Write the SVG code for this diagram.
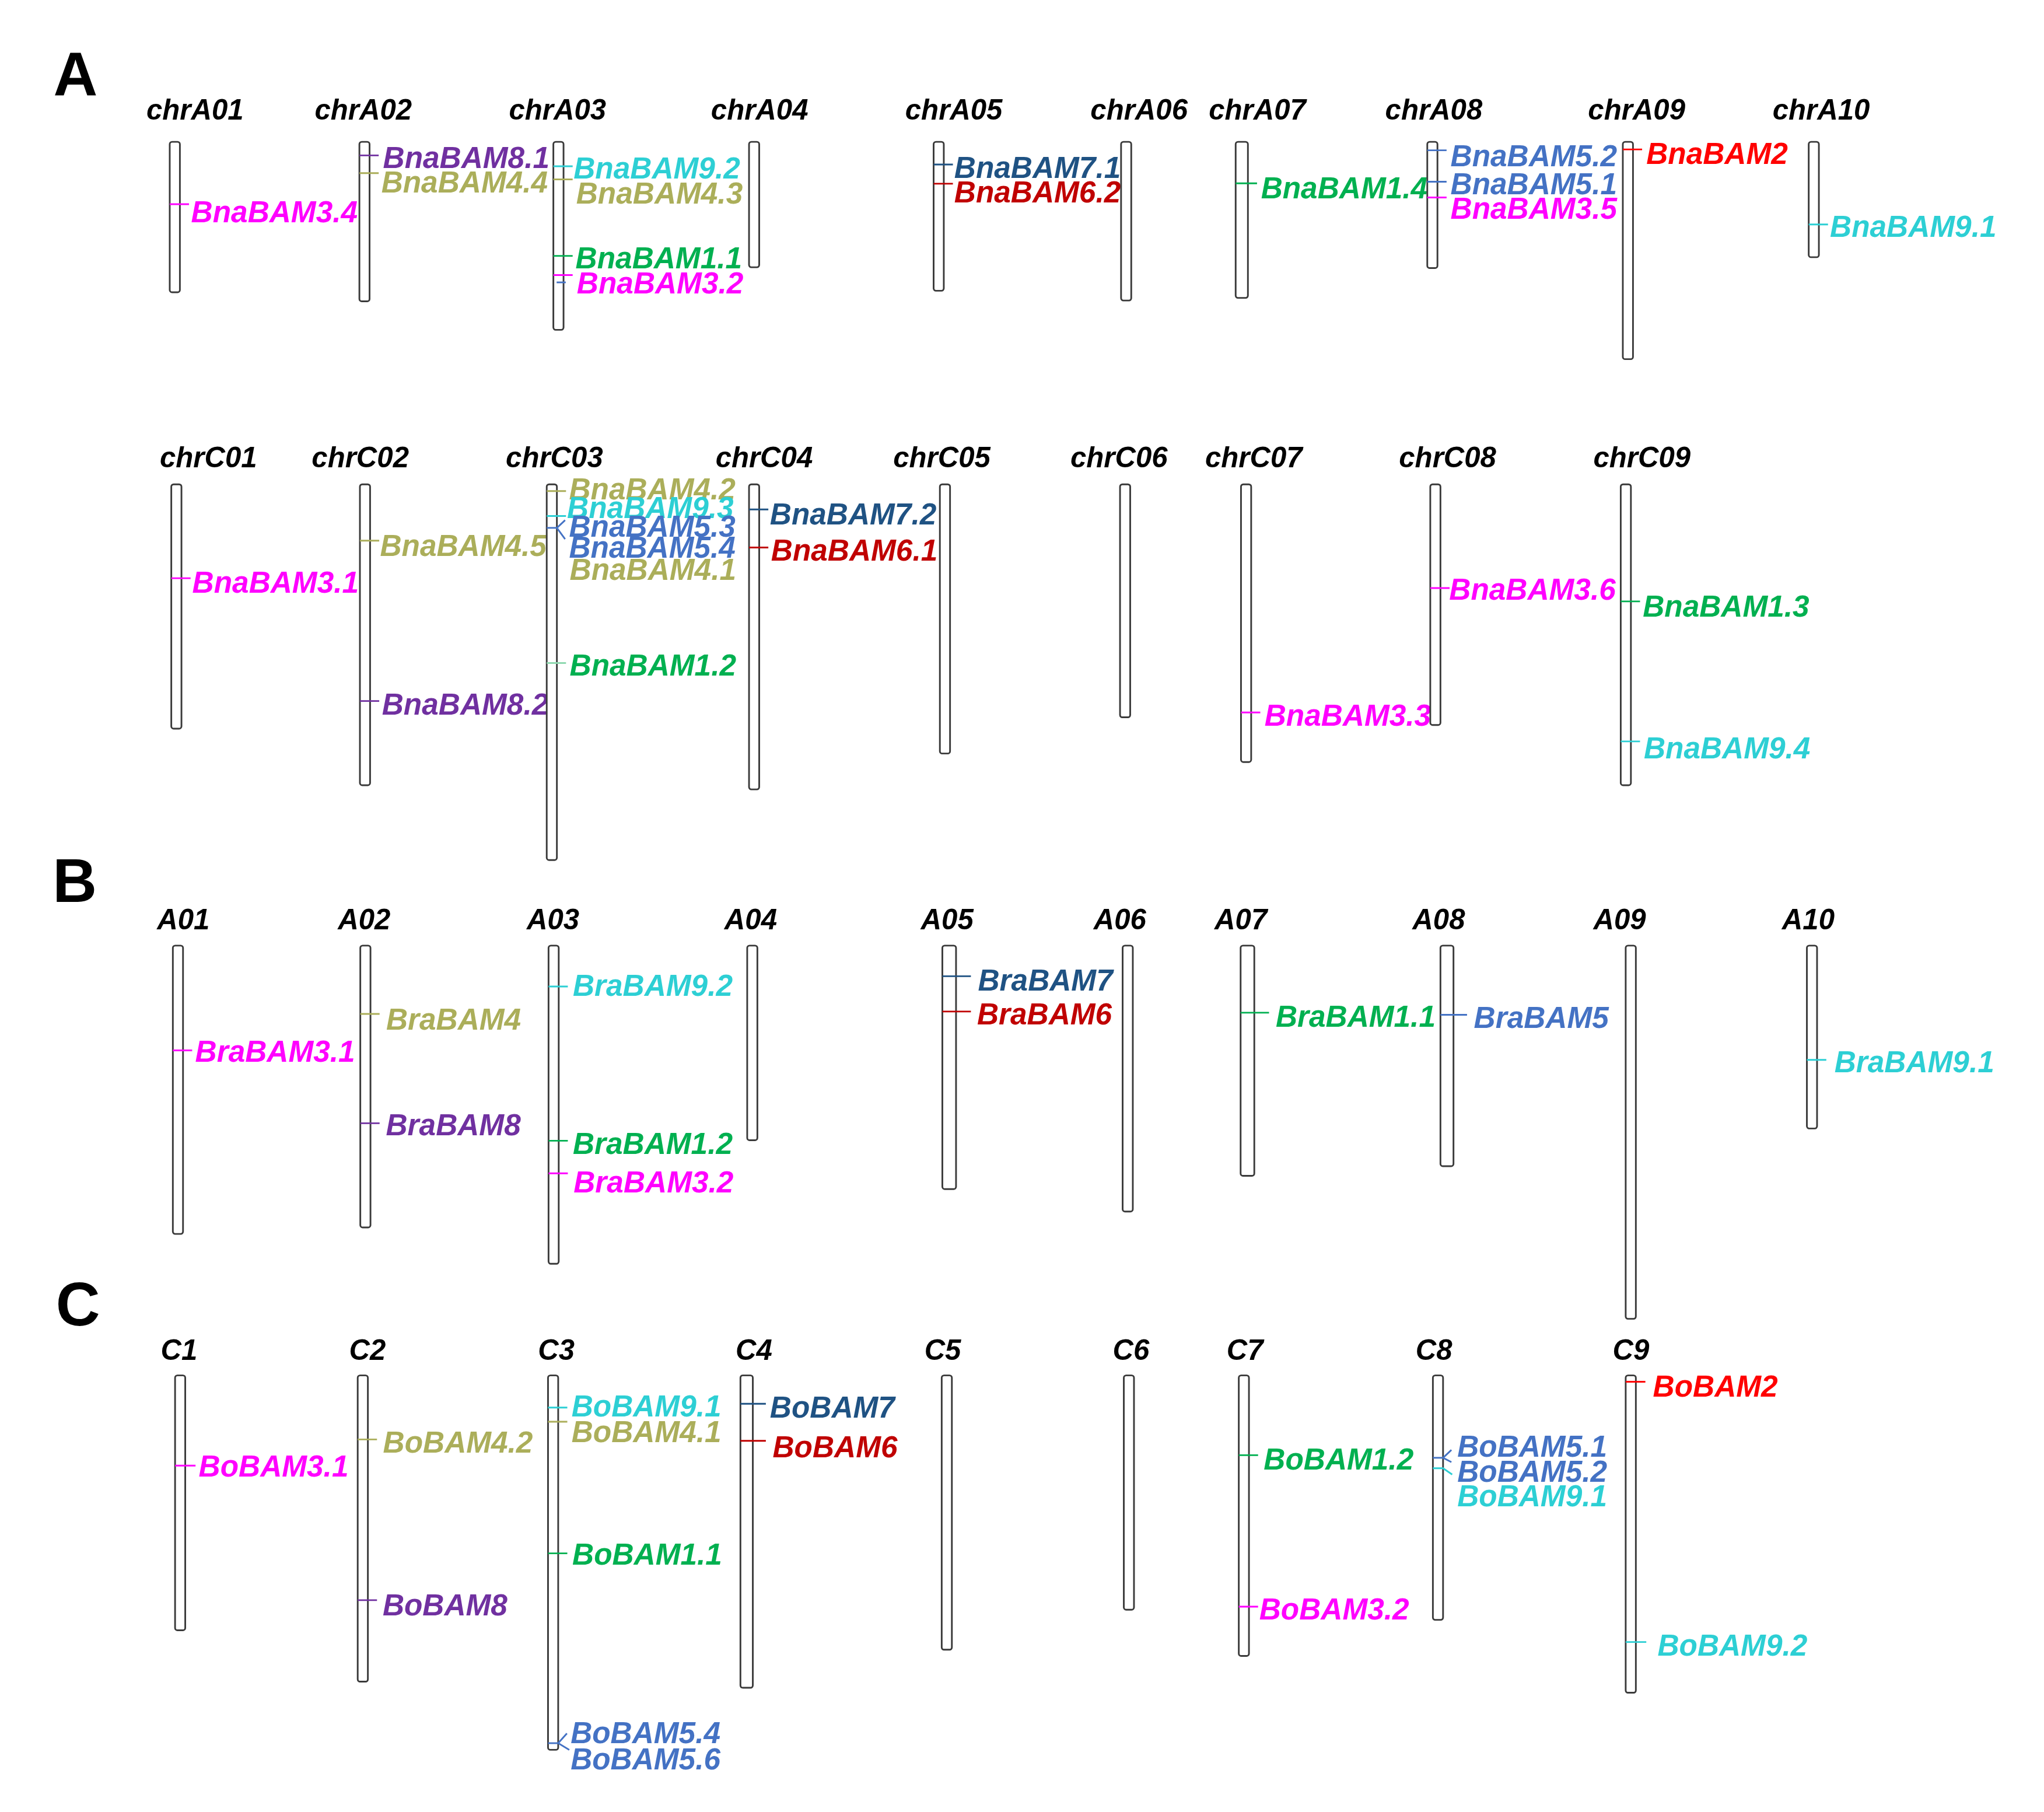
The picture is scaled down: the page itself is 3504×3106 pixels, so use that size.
<svg xmlns="http://www.w3.org/2000/svg" width="3504" height="3106" viewBox="0 0 3504 3106">
<style>
.chr{fill:#fff;stroke:#3a3a3a;stroke-width:1.3}
.cl{font-family:"Liberation Sans",Arial,sans-serif;font-weight:bold;font-style:italic;font-size:22px;fill:#000}
.g{font-family:"Liberation Sans",Arial,sans-serif;font-weight:bold;font-style:italic;font-size:23px}
.pl{font-family:"Liberation Sans",Arial,sans-serif;font-weight:bold;font-size:47px;fill:#000}
#connectors line,#connectors polyline{fill:none;stroke-width:1.3}
.f-mg{fill:#FF00FF}.s-mg{stroke:#FF00FF}
.f-ol{fill:#ABAE5A}.s-ol{stroke:#ABAE5A}
.f-cy{fill:#2DCFD4}.s-cy{stroke:#2DCFD4}
.f-gr{fill:#00B050}.s-gr{stroke:#00B050}
.s-lg{stroke:#8FD9B0}
.f-pu{fill:#7030A0}.s-pu{stroke:#7030A0}
.f-db{fill:#1F5283}.s-db{stroke:#1F5283}
.f-bl{fill:#4472C4}.s-bl{stroke:#4472C4}
.f-dr{fill:#C00000}.s-dr{stroke:#C00000}
.f-rd{fill:#FF0000}.s-rd{stroke:#FF0000}
</style>
<rect width="3504" height="3106" fill="#fff"/>
<g transform="scale(2.2347)">
<text class="pl" x="41" y="73.2">A</text>
<text class="pl" x="40.4" y="691.8">B</text>
<text class="pl" x="42.8" y="1016.5">C</text>

<!-- Row A nodes -->
<g id="chrA01"><rect class="chr" x="130.2" y="108.8" width="7.8" height="115.4" rx="1.8"/><text class="cl" x="112.3" y="91.6">chrA01</text><text class="g f-mg" x="146.6" y="170.5">BnaBAM3.4</text></g>
<g id="chrA02"><rect class="chr" x="275.7" y="108.8" width="7.8" height="122.3" rx="1.8"/><text class="cl" x="241.4" y="91.6">chrA02</text><text class="g f-pu" x="293.8" y="129.1">BnaBAM8.1</text><text class="g f-ol" x="292.5" y="147.5">BnaBAM4.4</text></g>
<g id="chrA03"><rect class="chr" x="424.5" y="108.8" width="7.8" height="144.2" rx="1.8"/><text class="cl" x="390.4" y="91.6">chrA03</text><text class="g f-cy" x="440" y="137.1">BnaBAM9.2</text><text class="g f-ol" x="442" y="156.3">BnaBAM4.3</text><text class="g f-gr" x="441.5" y="205.8">BnaBAM1.1</text><text class="g f-mg" x="442.5" y="225">BnaBAM3.2</text></g>
<g id="chrA04"><rect class="chr" x="574.6" y="108.8" width="7.8" height="96.2" rx="1.8"/><text class="cl" x="545.4" y="91.6">chrA04</text></g>
<g id="chrA05"><rect class="chr" x="716.2" y="108.8" width="7.8" height="114.2" rx="1.8"/><text class="cl" x="694.4" y="91.6">chrA05</text><text class="g f-db" x="732" y="136.4">BnaBAM7.1</text><text class="g f-dr" x="732" y="155.2">BnaBAM6.2</text></g>
<g id="chrA06"><rect class="chr" x="860" y="108.8" width="7.8" height="121.7" rx="1.8"/><text class="cl" x="836.5" y="91.6">chrA06</text></g>
<g id="chrA07"><rect class="chr" x="947.9" y="108.8" width="9.4" height="119.7" rx="1.8"/><text class="cl" x="927.3" y="91.6">chrA07</text><text class="g f-gr" x="967.3" y="152.2">BnaBAM1.4</text></g>
<g id="chrA08"><rect class="chr" x="1094.9" y="108.8" width="7.8" height="96.8" rx="1.8"/><text class="cl" x="1062.6" y="91.6">chrA08</text><text class="g f-bl" x="1112.7" y="127.4">BnaBAM5.2</text><text class="g f-bl" x="1112.7" y="149.2">BnaBAM5.1</text><text class="g f-mg" x="1112.7" y="168">BnaBAM3.5</text></g>
<g id="chrA09"><rect class="chr" x="1244.9" y="108.8" width="7.8" height="166.7" rx="1.8"/><text class="cl" x="1218.2" y="91.6">chrA09</text><text class="g f-rd" x="1262.9" y="125.9">BnaBAM2</text></g>
<g id="chrA10"><rect class="chr" x="1387.5" y="108.8" width="7.8" height="88.5" rx="1.8"/><text class="cl" x="1359.8" y="91.6">chrA10</text><text class="g f-cy" x="1403.8" y="181.5">BnaBAM9.1</text></g>

<!-- Row C nodes -->
<g id="chrC01"><rect class="chr" x="131.4" y="371.5" width="7.8" height="187.4" rx="1.8"/><text class="cl" x="122.6" y="358.3">chrC01</text><text class="g f-mg" x="147.5" y="454.8">BnaBAM3.1</text></g>
<g id="chrC02"><rect class="chr" x="276.1" y="371.5" width="7.8" height="230.8" rx="1.8"/><text class="cl" x="239.1" y="358.3">chrC02</text><text class="g f-ol" x="291.5" y="426.6">BnaBAM4.5</text><text class="g f-pu" x="293" y="548">BnaBAM8.2</text></g>
<g id="chrC03"><rect class="chr" x="419.4" y="371.5" width="7.8" height="288.2" rx="1.8"/><text class="cl" x="388" y="358.3">chrC03</text><text class="g f-ol" x="436.5" y="383">BnaBAM4.2</text><text class="g f-cy" x="435" y="397.3">BnaBAM9.3</text><text class="g f-bl" x="436.5" y="411.8">BnaBAM5.3</text><text class="g f-bl" x="436.5" y="427.7">BnaBAM5.4</text><text class="g f-ol" x="437" y="445">BnaBAM4.1</text><text class="g f-gr" x="437" y="518">BnaBAM1.2</text></g>
<g id="chrC04"><rect class="chr" x="574.6" y="371.5" width="7.8" height="234" rx="1.8"/><text class="cl" x="548.9" y="358.3">chrC04</text><text class="g f-db" x="590.6" y="402.3">BnaBAM7.2</text><text class="g f-dr" x="591.5" y="429.9">BnaBAM6.1</text></g>
<g id="chrC05"><rect class="chr" x="721" y="371.5" width="7.8" height="206.5" rx="1.8"/><text class="cl" x="685.2" y="358.3">chrC05</text></g>
<g id="chrC06"><rect class="chr" x="859.2" y="371.5" width="7.8" height="178.7" rx="1.8"/><text class="cl" x="821.1" y="358.3">chrC06</text></g>
<g id="chrC07"><rect class="chr" x="952" y="371.5" width="7.8" height="213" rx="1.8"/><text class="cl" x="924.5" y="358.3">chrC07</text><text class="g f-mg" x="970" y="556.7">BnaBAM3.3</text></g>
<g id="chrC08"><rect class="chr" x="1097.2" y="371.5" width="7.8" height="184.6" rx="1.8"/><text class="cl" x="1073.2" y="358.3">chrC08</text><text class="g f-mg" x="1111.7" y="460.2">BnaBAM3.6</text></g>
<g id="chrC09"><rect class="chr" x="1243.3" y="371.5" width="7.8" height="230.8" rx="1.8"/><text class="cl" x="1222.3" y="358.3">chrC09</text><text class="g f-gr" x="1260.2" y="473.2">BnaBAM1.3</text><text class="g f-cy" x="1261" y="581.7">BnaBAM9.4</text></g>

<!-- Row B nodes -->
<g id="A01"><rect class="chr" x="132.6" y="725.3" width="7.8" height="221.2" rx="1.8"/><text class="cl" x="120.5" y="712.7">A01</text><text class="g f-mg" x="149.7" y="814.6">BraBAM3.1</text></g>
<g id="A02"><rect class="chr" x="276.4" y="725.3" width="7.8" height="216.2" rx="1.8"/><text class="cl" x="259.2" y="712.7">A02</text><text class="g f-ol" x="296.2" y="789.6">BraBAM4</text><text class="g f-pu" x="296" y="870.6">BraBAM8</text></g>
<g id="A03"><rect class="chr" x="420.8" y="725.3" width="7.8" height="244.1" rx="1.8"/><text class="cl" x="404.1" y="712.7">A03</text><text class="g f-cy" x="439.4" y="764">BraBAM9.2</text><text class="g f-gr" x="439.4" y="885.2">BraBAM1.2</text><text class="g f-mg" x="440" y="914.5">BraBAM3.2</text></g>
<g id="A04"><rect class="chr" x="573.2" y="725.3" width="7.8" height="149.3" rx="1.8"/><text class="cl" x="555.7" y="712.7">A04</text></g>
<g id="A05"><rect class="chr" x="722.9" y="725.3" width="10.5" height="186.8" rx="1.8"/><text class="cl" x="706.4" y="712.7">A05</text><text class="g f-db" x="750.2" y="760">BraBAM7</text><text class="g f-dr" x="749.5" y="785.9">BraBAM6</text></g>
<g id="A06"><rect class="chr" x="861.2" y="725.3" width="7.8" height="204" rx="1.8"/><text class="cl" x="838.9" y="712.7">A06</text></g>
<g id="A07"><rect class="chr" x="951.7" y="725.3" width="10.5" height="176.6" rx="1.8"/><text class="cl" x="931.7" y="712.7">A07</text><text class="g f-gr" x="978.6" y="787.4">BraBAM1.1</text></g>
<g id="A08"><rect class="chr" x="1105" y="725.3" width="10" height="169.2" rx="1.8"/><text class="cl" x="1083.5" y="712.7">A08</text><text class="g f-bl" x="1130.6" y="788.6">BraBAM5</text></g>
<g id="A09"><rect class="chr" x="1247.1" y="725.3" width="7.8" height="286.3" rx="1.8"/><text class="cl" x="1222.3" y="712.7">A09</text></g>
<g id="A10"><rect class="chr" x="1386.1" y="725.3" width="7.8" height="140.3" rx="1.8"/><text class="cl" x="1367" y="712.7">A10</text><text class="g f-cy" x="1407.2" y="822.3">BraBAM9.1</text></g>

<!-- Row Bo nodes -->
<g id="C1"><rect class="chr" x="134.3" y="1055" width="7.8" height="195.5" rx="1.8"/><text class="cl" x="123.3" y="1043.3">C1</text><text class="g f-mg" x="152.4" y="1132.5">BoBAM3.1</text></g>
<g id="C2"><rect class="chr" x="274.4" y="1055" width="7.8" height="234.9" rx="1.8"/><text class="cl" x="267.8" y="1043.3">C2</text><text class="g f-ol" x="293.8" y="1114.1">BoBAM4.2</text><text class="g f-pu" x="293.5" y="1239.2">BoBAM8</text></g>
<g id="C3"><rect class="chr" x="420.4" y="1055" width="7.8" height="287.2" rx="1.8"/><text class="cl" x="412.7" y="1043.3">C3</text><text class="g f-cy" x="438.4" y="1086.5">BoBAM9.1</text><text class="g f-ol" x="438.4" y="1106.1">BoBAM4.1</text><text class="g f-gr" x="439" y="1200.3">BoBAM1.1</text><text class="g f-bl" x="437.7" y="1337.1">BoBAM5.4</text><text class="g f-bl" x="437.7" y="1357.2">BoBAM5.6</text></g>
<g id="C4"><rect class="chr" x="568" y="1055" width="9.5" height="239.6" rx="1.8"/><text class="cl" x="564.3" y="1043.3">C4</text><text class="g f-db" x="590.6" y="1087.2">BoBAM7</text><text class="g f-dr" x="592.7" y="1117.6">BoBAM6</text></g>
<g id="C5"><rect class="chr" x="722.4" y="1055" width="7.8" height="210.4" rx="1.8"/><text class="cl" x="709.1" y="1043.3">C5</text></g>
<g id="C6"><rect class="chr" x="862.1" y="1055" width="7.8" height="179.7" rx="1.8"/><text class="cl" x="853.6" y="1043.3">C6</text></g>
<g id="C7"><rect class="chr" x="950.3" y="1055" width="7.8" height="215.2" rx="1.8"/><text class="cl" x="941" y="1043.3">C7</text><text class="g f-gr" x="969.4" y="1127.2">BoBAM1.2</text><text class="g f-mg" x="966" y="1242.1">BoBAM3.2</text></g>
<g id="C8"><rect class="chr" x="1099.2" y="1055" width="7.8" height="187.5" rx="1.8"/><text class="cl" x="1085.9" y="1043.3">C8</text><text class="g f-bl" x="1117.9" y="1117.2">BoBAM5.1</text><text class="g f-bl" x="1117.9" y="1136.8">BoBAM5.2</text><text class="g f-cy" x="1117.9" y="1155.2">BoBAM9.1</text></g>
<g id="C9"><rect class="chr" x="1247.1" y="1055" width="7.8" height="243.4" rx="1.8"/><text class="cl" x="1237.1" y="1043.3">C9</text><text class="g f-rd" x="1268" y="1071.2">BoBAM2</text><text class="g f-cy" x="1271.5" y="1270">BoBAM9.2</text></g>

<g id="connectors">
<!-- Row A (Bna A) -->
<line class="s-mg" x1="130.2" y1="156.6" x2="145" y2="156.6"/>
<line class="s-pu" x1="275.7" y1="119.2" x2="290.5" y2="119.2"/>
<line class="s-ol" x1="275.7" y1="132.8" x2="290.5" y2="132.8"/>
<line class="s-cy" x1="424.5" y1="127.5" x2="439.3" y2="127.5"/>
<line class="s-ol" x1="424.5" y1="137.6" x2="439.3" y2="137.6"/>
<line class="s-gr" x1="424.5" y1="196.3" x2="439.3" y2="196.3"/>
<line class="s-mg" x1="424.5" y1="211" x2="439.3" y2="211"/>
<line class="s-bl" x1="427" y1="216.6" x2="434" y2="216.6"/>
<line class="s-db" x1="716.2" y1="126.2" x2="731" y2="126.2"/>
<line class="s-dr" x1="716.2" y1="140.9" x2="731" y2="140.9"/>
<line class="s-gr" x1="947.9" y1="140.6" x2="964.3" y2="140.6"/>
<line class="s-bl" x1="1094.9" y1="115.3" x2="1109.7" y2="115.3"/>
<line class="s-bl" x1="1094.9" y1="139.4" x2="1109.7" y2="139.4"/>
<line class="s-mg" x1="1094.9" y1="151.5" x2="1109.7" y2="151.5"/>
<line class="s-rd" x1="1244.9" y1="114.6" x2="1259.7" y2="114.6"/>
<line class="s-cy" x1="1387.5" y1="172.2" x2="1402.3" y2="172.2"/>
<!-- Row C (Bna C) -->
<line class="s-mg" x1="131.4" y1="443.5" x2="146.2" y2="443.5"/>
<line class="s-ol" x1="276.1" y1="414.7" x2="290.9" y2="414.7"/>
<line class="s-pu" x1="276.1" y1="537.7" x2="290.9" y2="537.7"/>
<line class="s-ol" x1="419.4" y1="376.7" x2="434.2" y2="376.7"/>
<line class="s-cy" x1="419.4" y1="395.8" x2="434.2" y2="395.8"/>
<line class="s-bl" x1="419.4" y1="404.9" x2="427.2" y2="404.9"/>
<polyline class="s-bl" points="433.5,399 427.2,404.9 433.5,413.5"/>
<line class="s-lg" x1="419.4" y1="508.6" x2="434.2" y2="508.6"/>
<line class="s-db" x1="574.6" y1="390.8" x2="589.4" y2="390.8"/>
<line class="s-dr" x1="574.6" y1="420" x2="589.4" y2="420"/>
<line class="s-mg" x1="952" y1="546.5" x2="966.8" y2="546.5"/>
<line class="s-mg" x1="1097.2" y1="451.1" x2="1112" y2="451.1"/>
<line class="s-gr" x1="1243.3" y1="461.3" x2="1258.1" y2="461.3"/>
<line class="s-cy" x1="1243.3" y1="568.7" x2="1258.1" y2="568.7"/>
<!-- Row B (Bra) -->
<line class="s-mg" x1="132.6" y1="805.7" x2="147.4" y2="805.7"/>
<line class="s-ol" x1="276.4" y1="777.7" x2="291.2" y2="777.7"/>
<line class="s-pu" x1="276.4" y1="861.6" x2="291.2" y2="861.6"/>
<line class="s-cy" x1="420.8" y1="756.7" x2="435.6" y2="756.7"/>
<line class="s-gr" x1="420.8" y1="875" x2="435.6" y2="875"/>
<line class="s-mg" x1="420.8" y1="900" x2="435.6" y2="900"/>
<line class="s-db" x1="722.9" y1="748.8" x2="744.8" y2="748.8"/>
<line class="s-dr" x1="722.9" y1="775.9" x2="744.8" y2="775.9"/>
<line class="s-gr" x1="951.7" y1="776.8" x2="973.5" y2="776.8"/>
<line class="s-bl" x1="1105" y1="778.4" x2="1125.4" y2="778.4"/>
<line class="s-cy" x1="1386.1" y1="813" x2="1401" y2="813"/>
<!-- Row Bo -->
<line class="s-mg" x1="134.3" y1="1124.2" x2="150" y2="1124.2"/>
<line class="s-ol" x1="274.4" y1="1104.1" x2="289.2" y2="1104.1"/>
<line class="s-pu" x1="274.4" y1="1227.4" x2="289.2" y2="1227.4"/>
<line class="s-cy" x1="420.4" y1="1079.7" x2="435.2" y2="1079.7"/>
<line class="s-ol" x1="420.4" y1="1090.5" x2="435.2" y2="1090.5"/>
<line class="s-gr" x1="420.4" y1="1191.5" x2="435.2" y2="1191.5"/>
<line class="s-bl" x1="420.4" y1="1337.1" x2="428.2" y2="1337.1"/>
<polyline class="s-bl" points="434.9,1329.6 428.2,1337.1 436.7,1342.2"/>
<line class="s-db" x1="568" y1="1076.8" x2="587.5" y2="1076.8"/>
<line class="s-dr" x1="568" y1="1105.2" x2="587.5" y2="1105.2"/>
<line class="s-gr" x1="950.3" y1="1116.2" x2="965.1" y2="1116.2"/>
<line class="s-mg" x1="950.3" y1="1232.4" x2="965.1" y2="1232.4"/>
<line class="s-bl" x1="1099.2" y1="1118.2" x2="1107" y2="1118.2"/>
<polyline class="s-bl" points="1113.4,1112.2 1107,1118.2 1113.4,1121.5"/>
<polyline class="s-cy" points="1099.2,1126.2 1107,1126.2 1114,1131"/>
<line class="s-rd" x1="1247.1" y1="1059.9" x2="1262.2" y2="1059.9"/>
<line class="s-cy" x1="1247.1" y1="1259.5" x2="1262.9" y2="1259.5"/>
</g>
</g>
</svg>
